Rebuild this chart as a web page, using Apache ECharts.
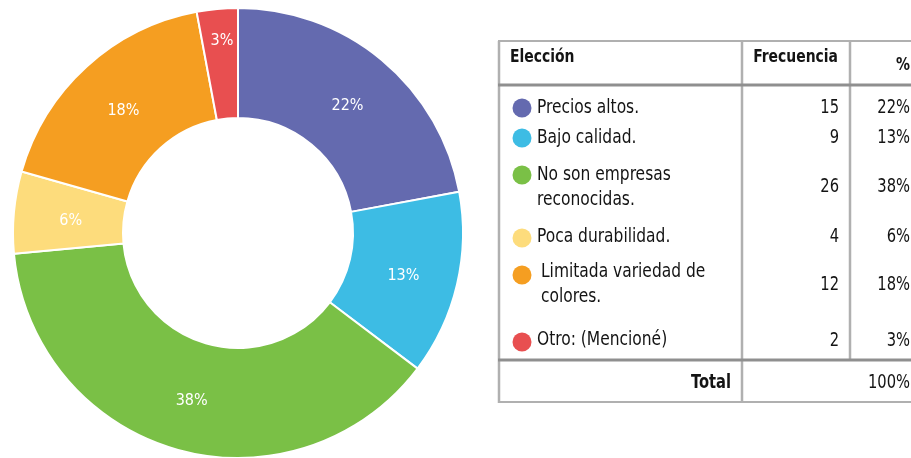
<!DOCTYPE html>
<html>
<head>
<meta charset="utf-8">
<script src="https://cdn.jsdelivr.net/npm/echarts@6/dist/echarts.min.js"></script>
<style>
  html, body { margin: 0; padding: 0; background: #fff; }
  #chart { width: 911px; height: 458px; }
</style>
</head>
<body>
<div id="chart"></div>
<script>
// data
const categories = [
  "Precios altos.",
  "Bajo calidad.",
  "No son empresas\nreconocidas.",
  "Poca durabilidad.",
  "Limitada variedad de\ncolores.",
  "Otro: (Mencioné)",
];
const frequencies = [15, 9, 26, 4, 12, 2];
const colors = ["#646aaf", "#3dbce4", "#7ac046", "#fddc7c", "#f59e21", "#e84f50"];
const headers = ["Elección", "Frecuencia", "%"];
const totalLabel = "Total";
const totalPct = "100%";

// table layout
const rowText = [108, 138, 175, 237, 272, 340];
const rowDot = [108, 138, 175, 238, 275, 342];
const rowValue = [108, 138, 187, 237, 285, 341];
const rowIndent = [537, 537, 537, 537, 541, 537];
// nudges so the pie labels sit where the original put them
const labelNudge = [[-1, 6], [-3, 3], [1, 1], [5, 4], [2, 6], [0, -20]];

const font = "'DejaVu Sans Condensed', sans-serif";
const lineGray = "#b0b0b0";
const darkGray = "#8f8f8f";

const total = frequencies.reduce((a, b) => a + b, 0);
const pct = (v) => Math.round((v / total) * 100) + "%";

// text squeezed horizontally to look like the narrow font of the original
function txt(text, x, y, align, bold, size) {
  return {
    type: "text",
    silent: true,
    x: x,
    y: y,
    scaleX: 0.86,
    style: {
      text: text,
      x: 0,
      y: 0,
      fill: "#141414",
      font: (bold ? "bold " : "") + (size || 20) + "px " + font,
      textAlign: align,
      align: align,
      textVerticalAlign: "middle",
      verticalAlign: "middle",
      lineHeight: 25,
    },
  };
}

function line(x1, y1, x2, y2, color, w) {
  return {
    type: "line",
    silent: true,
    shape: { x1, y1, x2, y2 },
    style: { stroke: color, lineWidth: w },
  };
}

const graphics = [
  // borders
  line(498, 41, 911, 41, lineGray, 2),
  line(499, 41, 499, 403, lineGray, 2.5),
  line(742, 41, 742, 403, lineGray, 2.5),
  line(850, 41, 850, 359, lineGray, 2.5),
  line(498, 85, 911, 85, darkGray, 3),
  line(498, 360, 911, 360, darkGray, 3),
  line(498, 402, 911, 402, lineGray, 2),
  // headers
  txt(headers[0], 510, 57, "left", true, 18),
  txt(headers[1], 838, 57, "right", true, 18),
  txt(headers[2], 910, 65, "right", true, 18),
  txt(totalLabel, 731, 383, "right", true, 19),
  txt(totalPct, 910, 383, "right", false, 19),
];

categories.forEach((name, i) => {
  const lines = name.split("\n").length;
  graphics.push({
    type: "circle",
    silent: true,
    shape: { cx: 522, cy: rowDot[i], r: 9.5 },
    style: { fill: colors[i] },
  });
  graphics.push(txt(name, rowIndent[i], rowText[i] + (lines - 1) * 12.5, "left", false, 20));
  graphics.push(txt(String(frequencies[i]), 839, rowValue[i], "right", false, 19));
  graphics.push(txt(pct(frequencies[i]), 910, rowValue[i], "right", false, 19));
});

const chart = echarts.init(document.getElementById("chart"));
chart.setOption({
  animation: false,
  color: colors,
  series: [
    {
      type: "pie",
      center: [238, 233],
      radius: [115, 225],
      startAngle: 90,
      clockwise: true,
      silent: true,
      itemStyle: {
        borderColor: "#ffffff",
        borderWidth: 2,
      },
      label: {
        show: true,
        position: "inside",
        color: "#ffffff",
        fontFamily: font,
        fontSize: 16,
        formatter: (p) => Math.round(p.percent) + "%",
      },
      labelLine: { show: false },
      data: categories.map((name, i) => ({
        name: name,
        value: frequencies[i],
        label: { offset: labelNudge[i] },
      })),
    },
  ],
  graphic: graphics,
});
</script>
</body>
</html>
